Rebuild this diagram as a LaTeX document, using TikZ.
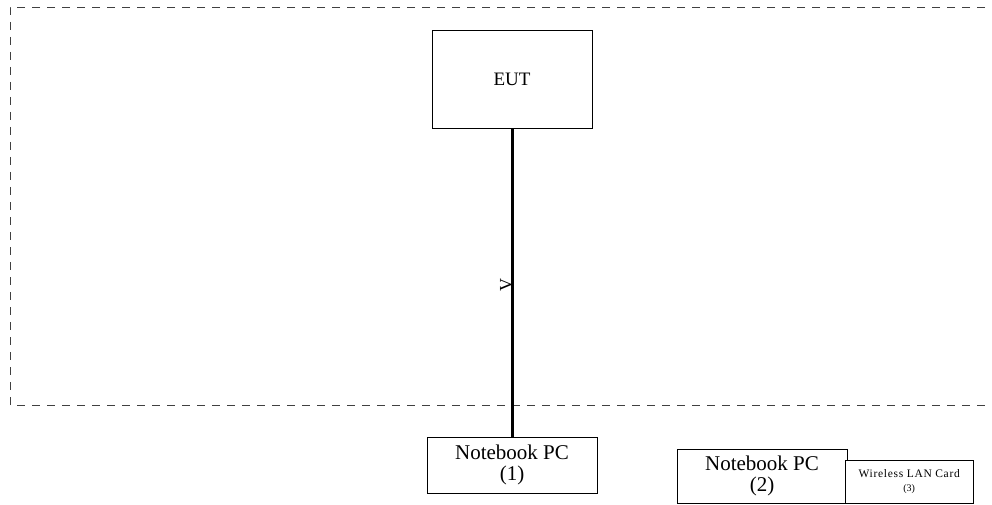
\documentclass[tikz,border=0pt]{standalone}
\usepackage{fontspec}
\setmainfont{Liberation Serif}
\usetikzlibrary{positioning}

\tikzset{
  unit/.style={draw, thin, fill=white, align=center, inner sep=0pt},
  area/.style={draw=black!75, thin, dash pattern=on 8pt off 7pt},
  cable/.style={line width=3pt}
}

\begin{document}
\begin{tikzpicture}[x=1pt,y=-1pt]
\useasboundingbox (0,0) rectangle (992,505);

% test area
\draw[area] (1000,7) -- (10,7) -- (10,405) -- (1000,405);

\node[unit, minimum width=160pt, minimum height=98pt, font=\fontsize{19}{20}\selectfont] (eut) at (512,79) {EUT};
\node[unit, minimum width=170pt, minimum height=56pt, font=\fontsize{21}{21}\selectfont] (nbone) at (512,465) {Notebook PC\\(1)};
\node[unit, minimum width=170pt, minimum height=54pt, font=\fontsize{21}{21}\selectfont] (nbtwo) at (762,476) {Notebook PC\\(2)};
\node[unit, minimum width=128pt, minimum height=43pt, anchor=south west, font=\fontsize{11.5}{14}\selectfont] (wlan) at (845,503)
  {\addfontfeatures{LetterSpace=6}Wireless LAN Card\\{\fontsize{10}{11}\selectfont(3)}};

\draw[cable] (eut) -- (nbone);
%\draw[cable] (eut.south) -- (nbone.north);
\node[rotate=90, font=\fontsize{18}{18}\selectfont, inner sep=0pt] (vmark) at (506,285) {V};
\end{tikzpicture}
\end{document}
